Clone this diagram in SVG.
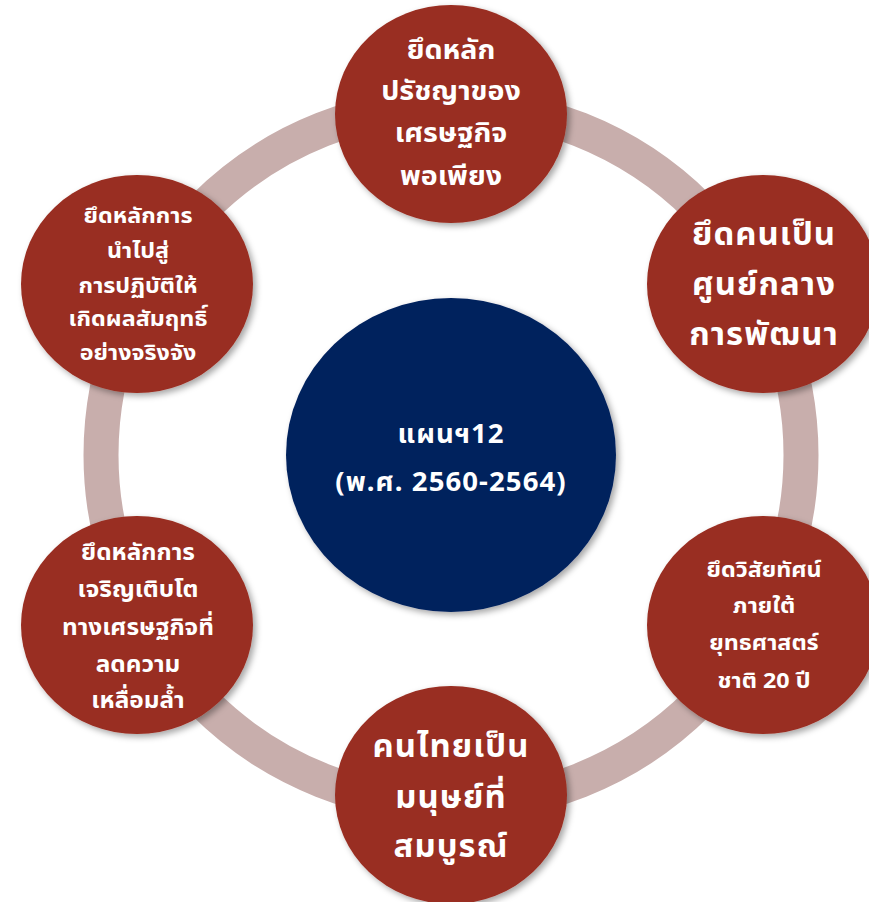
<svg xmlns="http://www.w3.org/2000/svg" width="869" height="902" viewBox="0 0 869 902">
<defs>
<filter id="sh" x="-20%" y="-20%" width="140%" height="140%">
<feDropShadow dx="3" dy="3" stdDeviation="3" flood-color="#000" flood-opacity="0.35"/>
</filter>
<style>
.red{fill:#992d20;filter:url(#sh)}
.navy{fill:#03215d;filter:url(#sh)}
.ring{fill:none;stroke:#c8aeac;stroke-width:35}
text{fill:#fff;font-family:"Noto Sans","Noto Sans Thai",Tahoma,sans-serif;text-anchor:middle;font-weight:bold}
.s22{font-size:22px}
.s23{font-size:23px}
.s27{font-size:27px}
.s31{font-size:31px;letter-spacing:1px}
.c{font-size:26px;letter-spacing:1px}
</style>
</defs>
<rect width="869" height="902" fill="#fff"/>
<g id="connectors">
<circle class="ring" cx="451" cy="455" r="350"/>
</g>
<g id="center">
<ellipse class="navy" cx="451" cy="455" rx="165" ry="157"/>
<g transform="translate(451,0) scale(1.06,1)">
<text class="c" x="0" y="443">แผนฯ12</text>
<text class="c" x="0" y="491">(พ.ศ. 2560-2564)</text>
</g>
</g>
<g id="n-top">
<ellipse class="red" cx="451" cy="114" rx="116" ry="109"/>
<g transform="translate(451,0) scale(1.06,1)">
<text class="s27" x="0" y="59">ยึดหลัก</text>
<text class="s27" x="0" y="100">ปรัชญาของ</text>
<text class="s27" x="0" y="142">เศรษฐกิจ</text>
<text class="s27" x="0" y="185">พอเพียง</text>
</g>
</g>
<g id="n-upper-right">
<ellipse class="red" cx="763" cy="284" rx="116" ry="109"/>
<g transform="translate(764,0) scale(1.06,1)">
<text class="s31" x="0" y="245">ยึดคนเป็น</text>
<text class="s31" x="0" y="295">ศูนย์กลาง</text>
<text class="s31" x="0" y="345">การพัฒนา</text>
</g>
</g>
<g id="n-lower-right">
<ellipse class="red" cx="763" cy="625" rx="116" ry="109"/>
<g transform="translate(764,0) scale(1.06,1)">
<text class="s22" x="0" y="577">ยึดวิสัยทัศน์</text>
<text class="s22" x="0" y="613">ภายใต้</text>
<text class="s22" x="0" y="650">ยุทธศาสตร์</text>
<text class="s22" x="0" y="688">ชาติ 20 ปี</text>
</g>
</g>
<g id="n-bottom">
<ellipse class="red" cx="451" cy="795" rx="116" ry="109"/>
<g transform="translate(451,0) scale(1.06,1)">
<text class="s31" x="0" y="757">คนไทยเป็น</text>
<text class="s31" x="0" y="808">มนุษย์ที่</text>
<text class="s31" x="0" y="857">สมบูรณ์</text>
</g>
</g>
<g id="n-lower-left">
<ellipse class="red" cx="137" cy="625" rx="116" ry="109"/>
<g transform="translate(138,0) scale(1.06,1)">
<text class="s23" x="0" y="560">ยึดหลักการ</text>
<text class="s23" x="0" y="597">เจริญเติบโต</text>
<text class="s23" x="0" y="635">ทางเศรษฐกิจที่</text>
<text class="s23" x="0" y="672">ลดความ</text>
<text class="s23" x="0" y="708">เหลื่อมล้ำ</text>
</g>
</g>
<g id="n-upper-left">
<ellipse class="red" cx="137" cy="284" rx="116" ry="109"/>
<g transform="translate(138,0) scale(1.06,1)">
<text class="s22" x="0" y="223">ยึดหลักการ</text>
<text class="s22" x="0" y="258">นำไปสู่</text>
<text class="s22" x="0" y="293">การปฏิบัติให้</text>
<text class="s22" x="0" y="326">เกิดผลสัมฤทธิ์</text>
<text class="s22" x="0" y="360">อย่างจริงจัง</text>
</g>
</g>
</svg>
